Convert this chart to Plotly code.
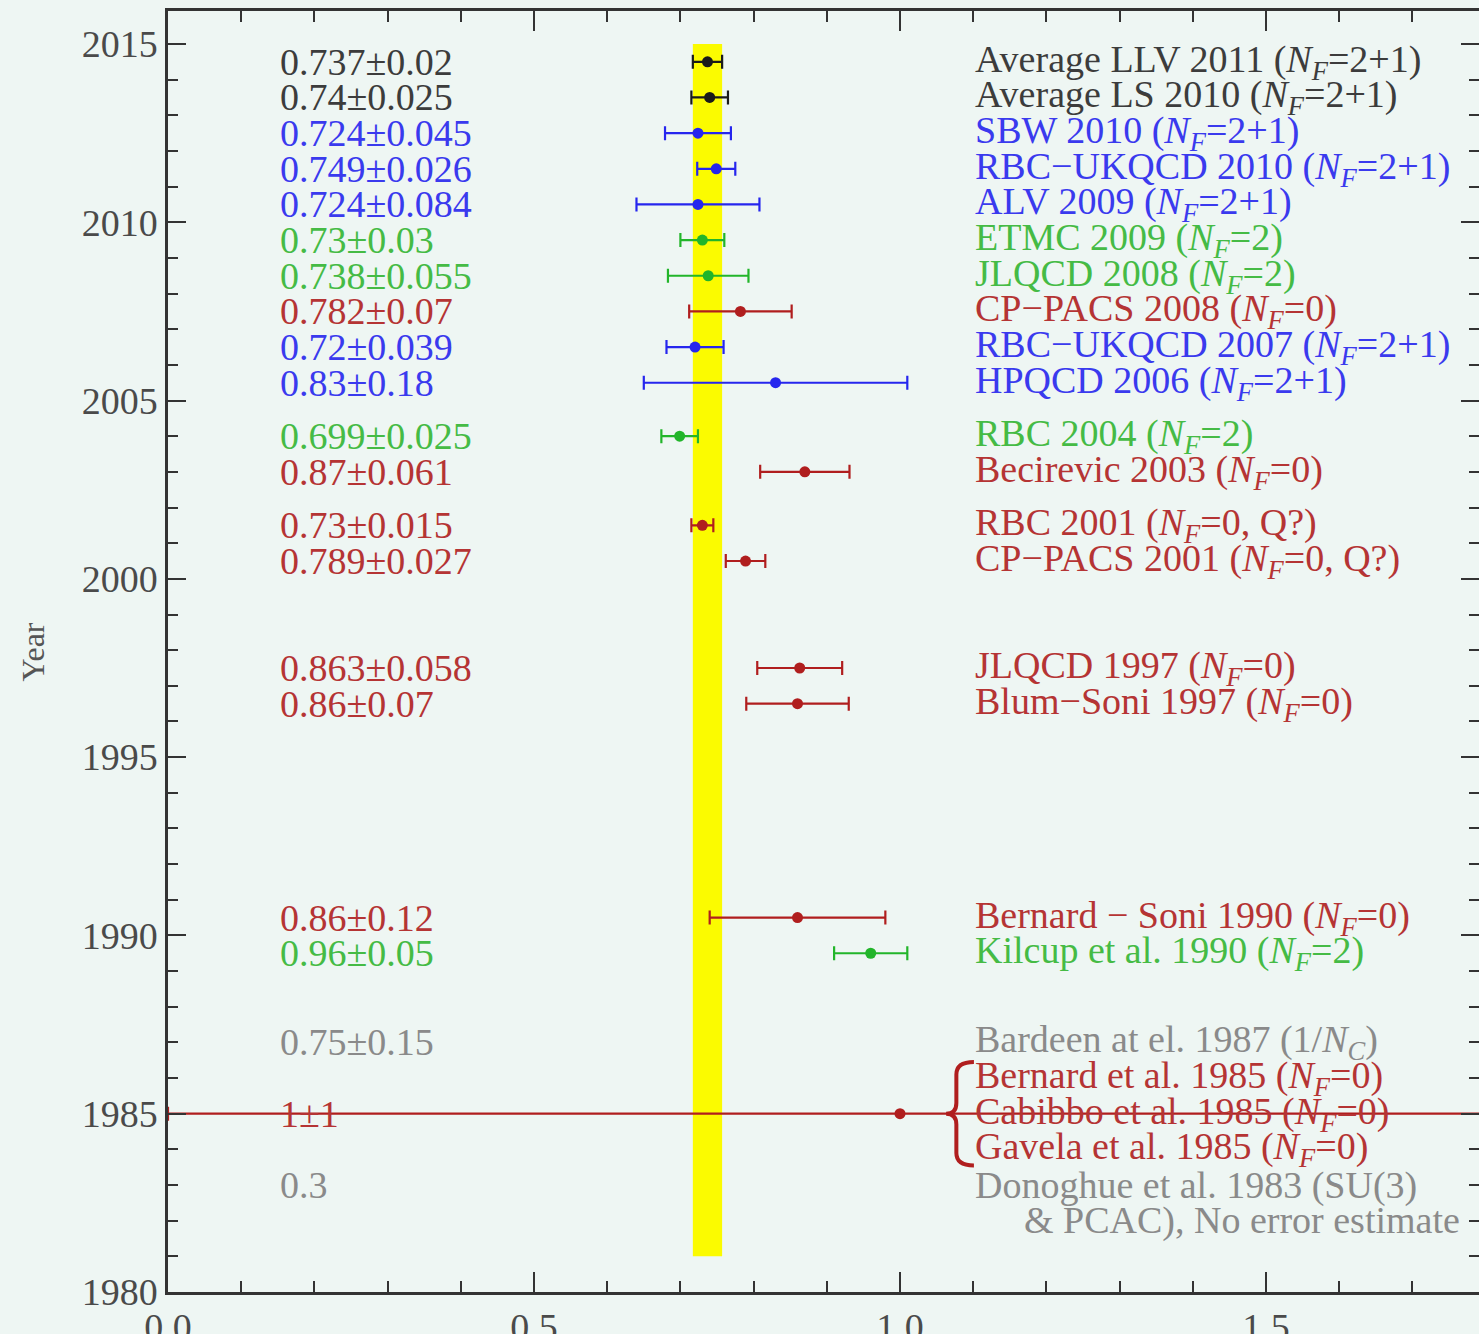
import plotly.graph_objects as go

# ---- measurements drawn as points with horizontal error bars ----
pt_year = [2014.5, 2013.5, 2012.5, 2011.5, 2010.5, 2009.5, 2008.5, 2007.5,
           2006.5, 2005.5, 2004.0, 2003.0, 2001.5, 2000.5, 1997.5, 1996.5,
           1990.5, 1989.5, 1985.0]
pt_value = [0.737, 0.74, 0.724, 0.749, 0.724, 0.73, 0.738, 0.782,
            0.72, 0.83, 0.699, 0.87, 0.73, 0.789, 0.863, 0.86,
            0.86, 0.96, 1.0]
pt_error = [0.02, 0.025, 0.045, 0.026, 0.084, 0.03, 0.055, 0.07,
            0.039, 0.18, 0.025, 0.061, 0.015, 0.027, 0.058, 0.07,
            0.12, 0.05, 1.0]
pt_group = ["avg", "avg", "nf21", "nf21", "nf21", "nf2", "nf2", "nf0",
            "nf21", "nf21", "nf2", "nf0", "nf0", "nf0", "nf0", "nf0",
            "nf0", "nf2", "nf0"]

# ---- text rows: value on the left, reference on the right ----
NF = "<i>N</i><sub><i>F</i></sub>"
row_year = [2014.5, 2013.5, 2012.5, 2011.5, 2010.5, 2009.5, 2008.5, 2007.5,
            2006.5, 2005.5, 2004.0, 2003.0, 2001.5, 2000.5, 1997.5, 1996.5,
            1990.5, 1989.5, 1987.0, 1986.0, 1985.0, 1984.0, 1983.0]
row_left = ["0.737±0.02", "0.74±0.025", "0.724±0.045", "0.749±0.026",
            "0.724±0.084", "0.73±0.03", "0.738±0.055", "0.782±0.07",
            "0.72±0.039", "0.83±0.18", "0.699±0.025", "0.87±0.061",
            "0.73±0.015", "0.789±0.027", "0.863±0.058", "0.86±0.07",
            "0.86±0.12", "0.96±0.05", "0.75±0.15", "", "1±1", "", "0.3"]
row_right = [
    f"Average LLV 2011 ({NF}=2+1)",
    f"Average LS 2010 ({NF}=2+1)",
    f"SBW 2010 ({NF}=2+1)",
    f"RBC−UKQCD 2010 ({NF}=2+1)",
    f"ALV 2009 ({NF}=2+1)",
    f"ETMC 2009 ({NF}=2)",
    f"JLQCD 2008 ({NF}=2)",
    f"CP−PACS 2008 ({NF}=0)",
    f"RBC−UKQCD 2007 ({NF}=2+1)",
    f"HPQCD 2006 ({NF}=2+1)",
    f"RBC 2004 ({NF}=2)",
    f"Becirevic 2003 ({NF}=0)",
    f"RBC 2001 ({NF}=0, Q?)",
    f"CP−PACS 2001 ({NF}=0, Q?)",
    f"JLQCD 1997 ({NF}=0)",
    f"Blum−Soni 1997 ({NF}=0)",
    f"Bernard − Soni 1990 ({NF}=0)",
    f"Kilcup et al. 1990 ({NF}=2)",
    "Bardeen at el. 1987 (1/<i>N</i><sub><i>C</i></sub>)",
    f"Bernard et al. 1985 ({NF}=0)",
    f"Cabibbo et al. 1985 ({NF}=0)",
    f"Gavela et al. 1985 ({NF}=0)",
    "Donoghue et al. 1983 (SU(3)",
]
row_group = ["avg", "avg", "nf21", "nf21", "nf21", "nf2", "nf2", "nf0",
             "nf21", "nf21", "nf2", "nf0", "nf0", "nf0", "nf0", "nf0",
             "nf0", "nf2", "other", "nf0", "nf0", "nf0", "other"]
note_year = 1982.0
note_text = "&amp; PCAC), No error estimate"

# grouped 1985 entries marked with a brace
brace_years = [1986.0, 1985.0, 1984.0]

# world-average band
band_center, band_half = 0.737, 0.02
band_years = (1981.0, 2015.0)

mark_color = {"avg": "#1a1a1a", "nf21": "#2626ee", "nf2": "#22b52a",
              "nf0": "#b01e1e", "other": "#888888"}
text_color = {"avg": "#3c3c3c", "nf21": "#3a3aee", "nf2": "#45bb45",
              "nf0": "#b53434", "other": "#8a8a8a"}

x_range = [0.0, 1.791]
y_range = [1980.0, 2015.925]
left_x, right_x = 0.15, 1.1
bg = "#eef6f3"
axis_col = "#333333"
serif = "Liberation Serif"

fig = go.Figure()

for g in ["avg", "nf21", "nf2", "nf0"]:
    idx = [i for i, k in enumerate(pt_group) if k == g]
    fig.add_trace(go.Scatter(
        x=[pt_value[i] for i in idx], y=[pt_year[i] for i in idx],
        mode="markers",
        marker=dict(size=11, color=mark_color[g]),
        error_x=dict(type="data", array=[pt_error[i] for i in idx],
                     color=mark_color[g], thickness=2.2, width=7),
        showlegend=False, hoverinfo="skip", cliponaxis=True))

# companion axes carrying the top and right ticks
fig.add_trace(go.Scatter(x=[], y=[], xaxis="x2", yaxis="y2",
                         showlegend=False, hoverinfo="skip"))

fig.add_shape(type="rect", xref="x", yref="y", layer="below",
              x0=band_center - band_half, x1=band_center + band_half,
              y0=band_years[0], y1=band_years[1],
              fillcolor="#fbfb00", line=dict(width=0))

lab_font = 38
for y, lt, rt, g in zip(row_year, row_left, row_right, row_group):
    c = text_color[g]
    if lt:
        fig.add_annotation(x=left_x, y=y, text=lt, showarrow=False,
                           xanchor="left", yanchor="middle",
                           font=dict(family=serif, size=lab_font, color=c))
    fig.add_annotation(x=right_x, y=y, text=rt, showarrow=False,
                       xanchor="left", yanchor="middle",
                       font=dict(family=serif, size=lab_font, color=c))
fig.add_annotation(x=1.768, y=note_year, text=note_text, showarrow=False,
                   xanchor="right", yanchor="middle",
                   font=dict(family=serif, size=lab_font,
                             color=text_color["other"]))

# brace grouping the three 1985 entries
yt = max(brace_years) + 0.45
yb = min(brace_years) - 0.45
yc = sum(brace_years) / len(brace_years)
xr, xm, xl = right_x + 0.001, right_x - 0.023, right_x - 0.037
d = (f"M {xr},{yt} Q {xm},{yt} {xm},{yt - 0.35} L {xm},{yc + 0.3} "
     f"Q {xm},{yc} {xl},{yc} Q {xm},{yc} {xm},{yc - 0.3} "
     f"L {xm},{yb + 0.35} Q {xm},{yb} {xr},{yb}")
fig.add_shape(type="path", path=d, xref="x", yref="y",
              line=dict(color=mark_color["nf0"], width=4))

fig.add_annotation(xref="paper", yref="paper", x=-0.103, y=0.5,
                   text="Year", textangle=-90, showarrow=False,
                   xanchor="center", yanchor="middle",
                   font=dict(family=serif, size=32, color="#555555"))

tick_font = dict(family=serif, size=38, color="#4a4a4a")
fig.update_layout(
    width=1479, height=1334,
    margin=dict(l=168, r=0, t=11, b=42),
    paper_bgcolor=bg, plot_bgcolor=bg,
    xaxis=dict(range=x_range, showgrid=False, zeroline=False,
               automargin=False,
               showline=True, linecolor=axis_col, linewidth=2.5,
               ticks="inside", ticklen=20, tickwidth=2, tickcolor=axis_col,
               dtick=0.5, tick0=0, tickformat=".1f", tickfont=tick_font,
               minor=dict(ticks="inside", ticklen=11, dtick=0.1,
                          tickwidth=2, tickcolor=axis_col)),
    yaxis=dict(range=y_range, showgrid=False, zeroline=False,
               automargin=False,
               showline=True, linecolor=axis_col, linewidth=2.5,
               ticks="inside", ticklen=18, tickwidth=2, tickcolor=axis_col,
               dtick=5, tick0=1980, tickfont=tick_font,
               minor=dict(ticks="inside", ticklen=10, dtick=1,
                          tickwidth=2, tickcolor=axis_col)),
    xaxis2=dict(range=x_range, overlaying="x", side="top", anchor="y2",
                automargin=False,
                showgrid=False, zeroline=False, showticklabels=False,
                showline=True, linecolor=axis_col, linewidth=2.5,
                ticks="inside", ticklen=20, tickwidth=2, tickcolor=axis_col,
                dtick=0.5, tick0=0,
                minor=dict(ticks="inside", ticklen=11, dtick=0.1,
                           tickwidth=2, tickcolor=axis_col)),
    yaxis2=dict(range=y_range, overlaying="y", side="right", anchor="x2",
                automargin=False,
                showgrid=False, zeroline=False, showticklabels=False,
                showline=False,
                ticks="inside", ticklen=18, tickwidth=2, tickcolor=axis_col,
                dtick=5, tick0=1980,
                minor=dict(ticks="inside", ticklen=10, dtick=1,
                           tickwidth=2, tickcolor=axis_col)),
)

fig.write_html("out.html")
